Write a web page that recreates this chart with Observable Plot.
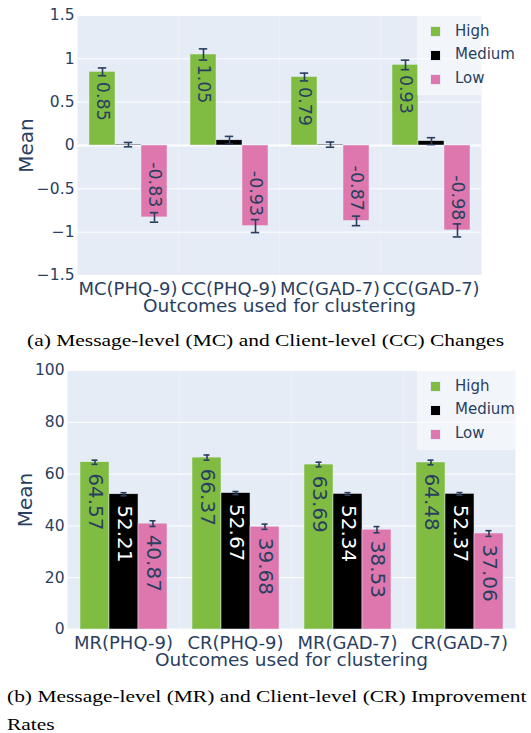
<!DOCTYPE html>
<html><head><meta charset="utf-8">
<script src="https://cdn.jsdelivr.net/npm/d3@7"></script>
<script src="https://cdn.jsdelivr.net/npm/@observablehq/plot@0.6"></script>
<style>
body{margin:0;background:#fff;width:531px;height:733px;position:relative;overflow:hidden;font-family:"DejaVu Sans",sans-serif;}
.chart{position:absolute;left:0;}
.legend{position:absolute;background:rgba(255,255,255,0.5);color:#2a3f5f;font-size:15px;font-family:"DejaVu Sans",sans-serif;}
.legend .sw{position:absolute;width:11px;height:11px;box-sizing:border-box;border:0.5px solid #e5ecf6;}
.legend .lab{position:absolute;line-height:16px;white-space:nowrap;}
.cap{position:absolute;font-family:"Liberation Serif","Times New Roman",serif;color:#000;font-size:17px;white-space:nowrap;}
</style></head><body>
<div id="a" class="chart" style="top:0px"></div>
<div id="b" class="chart" style="top:355px"></div>
<div id="legA" class="legend" style="left:417px;top:15px;width:100px;height:80px"></div>
<div id="legB" class="legend" style="left:417px;top:370px;width:99px;height:80px"></div>
<div class="cap" style="left:0;width:531px;text-align:center;top:331px;line-height:20px;transform:scaleX(1.263);transform-origin:265.5px 0">(a) Message-level (MC) and Client-level (CC) Changes</div>
<div class="cap" style="left:7px;top:683px;line-height:28.4px;transform:scaleX(1.262);transform-origin:0 0">(b) Message-level (MR) and Client-level (CR) Improvement<br>Rates</div>
<script>
// ---------- data ----------
const levels = ["High", "Medium", "Low"];
const levelColors = ["#7fbc41", "#000000", "#de77ae"];

const outcomesA = ["MC(PHQ-9)", "CC(PHQ-9)", "MC(GAD-7)", "CC(GAD-7)"];
const highA = [0.85, 1.05, 0.79, 0.93];
const mediumA = [0.01, 0.06, 0.01, 0.05];
const lowA = [-0.83, -0.93, -0.87, -0.98];
const errHighA = [0.045, 0.065, 0.045, 0.055];
const errMediumA = [0.025, 0.045, 0.03, 0.04];
const errLowA = [0.055, 0.075, 0.055, 0.075];
const yTicksA = [-1.5, -1, -0.5, 0, 0.5, 1, 1.5];

const outcomesB = ["MR(PHQ-9)", "CR(PHQ-9)", "MR(GAD-7)", "CR(GAD-7)"];
const highB = [64.57, 66.37, 63.69, 64.48];
const mediumB = [52.21, 52.67, 52.34, 52.37];
const lowB = [40.87, 39.68, 38.53, 37.06];
const errHighB = [0.8, 1.0, 0.9, 0.9];
const errMediumB = [0.6, 0.6, 0.5, 0.5];
const errLowB = [1.1, 1.0, 1.2, 1.1];
const yTicksB = [0, 20, 40, 60, 80, 100];

const xTitle = "Outcomes used for clustering";
const yTitle = "Mean";

function rowsOf(outcomes, series, errs) {
  const rows = [];
  outcomes.forEach((o, i) => levels.forEach((l, j) => rows.push({outcome: o, level: l, value: series[j][i], err: errs[j][i]})));
  return rows;
}

const ink = "#2a3f5f";
const minusFmt = d => d < 0 ? "\u2212" + (-d) : String(d);

function chart(o) {
  const rows = o.rows;
  const labeled = rows.filter(o.show);
  const txt = (data, anchor, dy, fill) => Plot.text(data, {
    fx: "outcome", x: "level", y: "value", text: d => d.value.toFixed(2),
    rotate: 90, textAnchor: anchor, lineAnchor: "middle", dy, fontSize: o.valueFont, fill
  });
  return Plot.plot({
    width: 531, height: o.height,
    marginTop: 15, marginBottom: o.marginBottom, marginLeft: o.marginLeft, marginRight: o.marginRight,
    style: {fontFamily: "DejaVu Sans, sans-serif", color: ink, background: "white", overflow: "visible"},
    fx: {domain: o.outcomes, padding: 0},
    x: {domain: levels, paddingInner: 0, paddingOuter: o.padOuter, axis: null},
    y: {domain: o.yDomain},
    color: {domain: levels, range: levelColors},
    marks: [
      Plot.frame({fill: "#e5ecf6"}),
      Plot.ruleY(o.yTicks, {stroke: "white", strokeWidth: 1}),
      Plot.ruleY([0], {stroke: "white", strokeWidth: 2}),
      Plot.barY(rows, {fx: "outcome", x: "level", y: "value", fill: "level", stroke: "#e5ecf6", strokeWidth: 0.5}),
      txt(labeled.filter(d => d.value >= 0 && d.level !== "Medium"), "start", o.pad, ink),
      txt(labeled.filter(d => d.value >= 0 && d.level === "Medium"), "start", o.pad, "white"),
      txt(labeled.filter(d => d.value < 0), "end", -o.pad, ink),
      Plot.ruleX(rows, {fx: "outcome", x: "level", y1: d => d.value - d.err, y2: d => d.value + d.err, stroke: ink, strokeWidth: 1.6}),
      Plot.tickY(rows, {fx: "outcome", x: "level", y: d => d.value + d.err, insetLeft: o.capInset, insetRight: o.capInset, stroke: ink, strokeWidth: 1.6}),
      Plot.tickY(rows, {fx: "outcome", x: "level", y: d => d.value - d.err, insetLeft: o.capInset, insetRight: o.capInset, stroke: ink, strokeWidth: 1.6}),
      Plot.axisY(o.yTicks, {tickSize: 0, tickPadding: 3, fontSize: 15.5, tickFormat: minusFmt, color: ink, label: null}),
      Plot.axisFx({anchor: "bottom", tickSize: 0, tickPadding: 7, fontSize: 18, label: null, color: ink}),
      Plot.text([yTitle], {fx: () => o.outcomes[0], frameAnchor: "left", dx: -o.yTitleDx, rotate: -90, fontSize: 20, fill: ink, textAnchor: "middle", lineAnchor: "middle"}),
      Plot.text([xTitle], {fx: () => o.outcomes[1], frameAnchor: "bottom-right", dy: 31, fontSize: 18.5, fill: ink, textAnchor: "middle", lineAnchor: "middle"})
    ]
  });
}

document.getElementById("a").append(chart({
  rows: rowsOf(outcomesA, [highA, mediumA, lowA], [errHighA, errMediumA, errLowA]),
  outcomes: outcomesA, yDomain: [-1.5, 1.5], yTicks: yTicksA,
  height: 322, marginBottom: 47, marginLeft: 76, marginRight: 50, padOuter: 0.39,
  show: d => d.level !== "Medium", valueFont: 17.5, pad: 10, capInset: 8.8, yTitleDx: 51
}));
document.getElementById("b").append(chart({
  rows: rowsOf(outcomesB, [highB, mediumB, lowB], [errHighB, errMediumB, errLowB]),
  outcomes: outcomesB, yDomain: [0, 100], yTicks: yTicksB,
  height: 321, marginBottom: 47, marginLeft: 66, marginRight: 15, padOuter: 0.375,
  show: d => true, valueFont: 20, pad: 11, capInset: 11.5, yTitleDx: 42
}));

function legend(id) {
  const el = document.getElementById(id);
  levels.forEach((l, i) => {
    const cy = 16.7 + i * 23.7;
    const sw = document.createElement("div");
    sw.className = "sw"; sw.style.left = "13px"; sw.style.top = (cy - 5.5) + "px"; sw.style.background = levelColors[i];
    const lab = document.createElement("div");
    lab.className = "lab"; lab.style.left = "38px"; lab.style.top = (cy - 9) + "px"; lab.textContent = l;
    el.append(sw, lab);
  });
}
legend("legA"); legend("legB");
</script>
</body></html>
